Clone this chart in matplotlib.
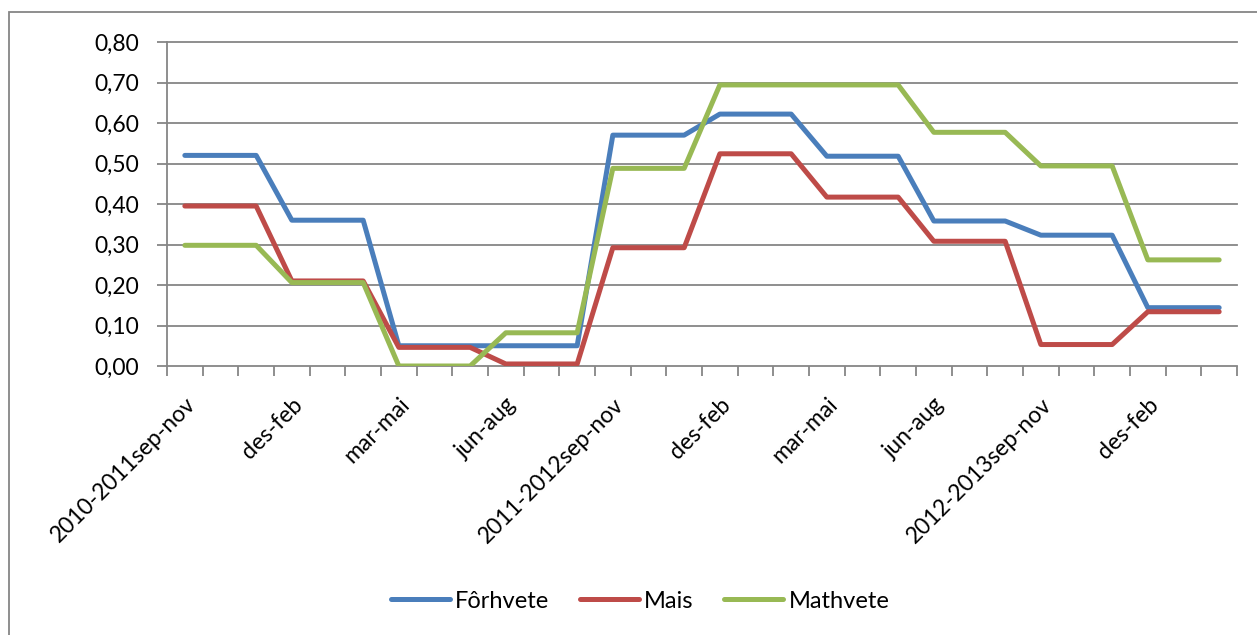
import matplotlib
matplotlib.use("Agg")
import matplotlib.pyplot as plt
from matplotlib.patches import Rectangle
from matplotlib.transforms import ScaledTranslation

categories = ["2010-2011sep-nov", "", "", "des-feb", "", "", "mar-mai", "", "", "jun-aug", "", "",
              "2011-2012sep-nov", "", "", "des-feb", "", "", "mar-mai", "", "", "jun-aug", "", "",
              "2012-2013sep-nov", "", "", "des-feb", "", ""]

forhvete = [0.52, 0.52, 0.52, 0.36, 0.36, 0.36, 0.05, 0.05, 0.05, 0.05, 0.05, 0.05,
            0.57, 0.57, 0.57, 0.622, 0.622, 0.622, 0.518, 0.518, 0.518, 0.358, 0.358, 0.358,
            0.323, 0.323, 0.323, 0.144, 0.144, 0.144]
mais = [0.395, 0.395, 0.395, 0.21, 0.21, 0.21, 0.046, 0.046, 0.046, 0.005, 0.005, 0.005,
        0.292, 0.292, 0.292, 0.524, 0.524, 0.524, 0.417, 0.417, 0.417, 0.308, 0.308, 0.308,
        0.053, 0.053, 0.053, 0.134, 0.134, 0.134]
mathvete = [0.298, 0.298, 0.298, 0.206, 0.206, 0.206, 0.0, 0.0, 0.0, 0.082, 0.082, 0.082,
            0.488, 0.488, 0.488, 0.694, 0.694, 0.694, 0.694, 0.694, 0.694, 0.577, 0.577, 0.577,
            0.494, 0.494, 0.494, 0.262, 0.262, 0.262]
series_names = ["Fôrhvete", "Mais", "Mathvete"]
colors = ["#4A7EBB", "#BE4B48", "#98B954"]
yticks = [0.0, 0.1, 0.2, 0.3, 0.4, 0.5, 0.6, 0.7, 0.8]

plt.rcParams['font.family'] = ['Lato', 'DejaVu Sans']
FS = 16.5
W, H = 1257, 635
fig = plt.figure(figsize=(W / 100, H / 100), dpi=100)
fig.patch.set_facecolor("white")

ax = fig.add_axes([167 / W, 1 - 366 / H, (1237 - 167) / W, (366 - 42) / H])
n = len(categories)
xs = [i + 0.5 for i in range(n)]
for vals, name, c in zip([forhvete, mais, mathvete], series_names, colors):
    ax.plot(xs, vals, color=c, lw=3.6, solid_capstyle='round', solid_joinstyle='round', label=name, zorder=3)

grid_c = "#868686"
ax.set_xlim(0, n)
ax.set_ylim(0, 0.8)
ax.set_yticks(yticks)
ax.set_yticklabels([f"{v:.2f}".replace(".", ",") for v in yticks], fontsize=FS)
for y in yticks[1:]:
    ax.axhline(y, color=grid_c, lw=1.3, zorder=1, clip_on=False)

ax.set_xticks(range(n + 1), minor=False)
ax.set_xticklabels([])
ax.set_xticks(xs, minor=True)
ax.set_xticklabels(categories, minor=True, rotation=45, ha='right', va='top',
                   rotation_mode='anchor', fontsize=FS)
offset = ScaledTranslation(5 / 100, 0, fig.dpi_scale_trans)
for lab in ax.get_xticklabels(minor=True):
    lab.set_transform(lab.get_transform() + offset)
ax.tick_params(axis='x', which='major', length=7, width=1.3, color=grid_c, direction='out')
ax.tick_params(axis='x', which='minor', length=0, pad=20)
ax.tick_params(axis='y', length=7, width=1.3, color=grid_c, direction='out', pad=13)

for s in ["top", "right"]:
    ax.spines[s].set_visible(False)
for s in ["left", "bottom"]:
    ax.spines[s].set_color(grid_c)
    ax.spines[s].set_linewidth(1.3)

fig.legend(loc='center', bbox_to_anchor=(640 / W, 1 - 601 / H), ncol=3, frameon=False,
           fontsize=17, handlelength=2.5, handletextpad=0.22, columnspacing=1.3)

fig.patches.append(Rectangle((9 / W, -0.05), 1.1, 1 - 12 / H + 0.05, transform=fig.transFigure,
                             fill=False, edgecolor=grid_c, lw=1.3))

fig.savefig("out.png", dpi=100, facecolor="white")
